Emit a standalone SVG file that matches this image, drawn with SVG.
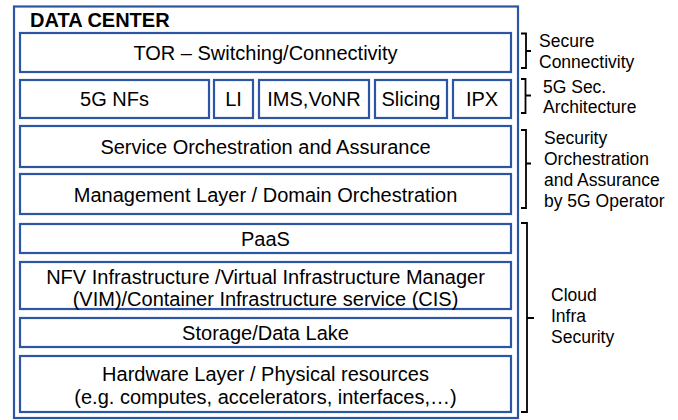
<svg xmlns="http://www.w3.org/2000/svg" width="678" height="420" viewBox="0 0 678 420">
  <style>
    .box { fill: #ffffff; stroke: #2C55A3; stroke-width: 2.2; }
    .frame { fill: #ffffff; stroke: #2C55A3; stroke-width: 2.2; }
    .lbl { font-family: "Liberation Sans", Arial, sans-serif; font-size: 20px; fill: #000000; text-anchor: middle; }
    .title { font-family: "Liberation Sans", Arial, sans-serif; font-size: 20px; font-weight: bold; fill: #000000; }
    .side { font-family: "Liberation Sans", Arial, sans-serif; font-size: 17.5px; fill: #000000; }
    .brace { fill: none; stroke: #000000; stroke-width: 1.8; }
  </style>

  <!-- data center frame -->
  <g id="data-center">
    <rect class="frame" x="14" y="6.5" width="504" height="411.5"/>
    <text class="title" x="30" y="27">DATA CENTER</text>
  </g>

  <g id="tor">
    <rect class="box" x="20" y="33" width="491" height="39"/>
    <text class="lbl" x="265.5" y="59.5">TOR – Switching/Connectivity</text>
  </g>

  <g id="nfs">
    <rect class="box" x="20" y="80" width="189" height="38"/>
    <text class="lbl" x="114.5" y="106">5G NFs</text>
  </g>
  <g id="li">
    <rect class="box" x="214" y="80" width="39" height="38"/>
    <text class="lbl" x="233.5" y="106">LI</text>
  </g>
  <g id="ims">
    <rect class="box" x="259" y="80" width="110" height="38"/>
    <text class="lbl" x="314" y="106">IMS,VoNR</text>
  </g>
  <g id="slicing">
    <rect class="box" x="375" y="80" width="72" height="38"/>
    <text class="lbl" x="411" y="106">Slicing</text>
  </g>
  <g id="ipx">
    <rect class="box" x="453" y="80" width="58" height="38"/>
    <text class="lbl" x="482" y="106">IPX</text>
  </g>

  <g id="service-orch">
    <rect class="box" x="20" y="126" width="491" height="41"/>
    <text class="lbl" x="265.5" y="154">Service Orchestration and Assurance</text>
  </g>
  <g id="mgmt">
    <rect class="box" x="20" y="174" width="491" height="40"/>
    <text class="lbl" x="265.5" y="201.5">Management Layer / Domain Orchestration</text>
  </g>

  <g id="paas">
    <rect class="box" x="20" y="224" width="491" height="29"/>
    <text class="lbl" x="265.5" y="246">PaaS</text>
  </g>
  <g id="nfv">
    <rect class="box" x="20" y="262" width="491" height="47"/>
    <text class="lbl" x="265.5" y="284">NFV Infrastructure /Virtual Infrastructure Manager</text>
    <text class="lbl" x="265.5" y="305.5">(VIM)/Container Infrastructure service (CIS)</text>
  </g>
  <g id="storage">
    <rect class="box" x="20" y="318" width="491" height="29"/>
    <text class="lbl" x="265.5" y="340">Storage/Data Lake</text>
  </g>
  <g id="hardware">
    <rect class="box" x="20" y="356" width="491" height="56"/>
    <text class="lbl" x="265.5" y="380.5">Hardware Layer / Physical resources</text>
    <text class="lbl" x="265.5" y="403.5">(e.g. computes, accelerators, interfaces,…)</text>
  </g>

  <!-- side braces -->
  <g id="connectors">
    <path class="brace" d="M521 33.5 H526 V68 H521 M526 51 H531"/>
    <path class="brace" d="M521 79 H525.5 V113 H521 M525.5 95.5 H531"/>
    <path class="brace" d="M521 130 H526 V208 H521 M526 163.5 H531"/>
    <path class="brace" d="M521 223 H527 V412 H521 M527 318 H534"/>
  </g>

  <g id="label-secure">
    <text class="side" x="539" y="47">Secure</text>
    <text class="side" x="539" y="67.5">Connectivity</text>
  </g>
  <g id="label-5gsec">
    <text class="side" x="543" y="92.5">5G Sec.</text>
    <text class="side" x="543" y="112.5">Architecture</text>
  </g>
  <g id="label-soa">
    <text class="side" x="544" y="143.5">Security</text>
    <text class="side" x="544" y="165">Orchestration</text>
    <text class="side" x="544" y="186">and Assurance</text>
    <text class="side" x="544" y="207">by 5G Operator</text>
  </g>
  <g id="label-cloud">
    <text class="side" x="551" y="300.5">Cloud</text>
    <text class="side" x="551" y="321.5">Infra</text>
    <text class="side" x="551" y="342.5">Security</text>
  </g>
</svg>
